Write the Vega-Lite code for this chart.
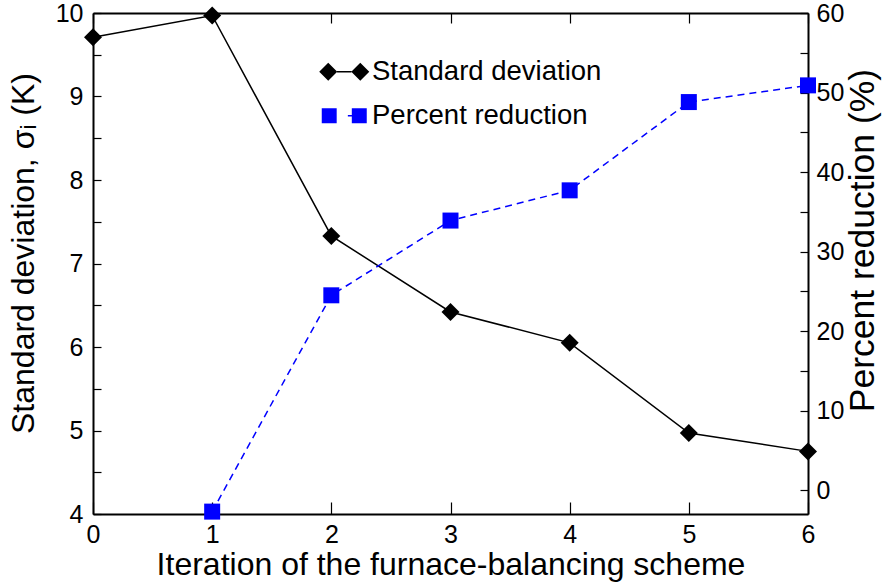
{
  "$schema": "https://vega.github.io/schema/vega-lite/v6.json",
  "width": 715,
  "height": 501,
  "autosize": {"type": "none"},
  "padding": {"left": 93, "top": 13, "right": 75, "bottom": 69},
  "background": "white",
  "config": {
    "view": {"stroke": null},
    "font": "Liberation Sans",
    "axis": {
      "grid": false,
      "domainColor": "black",
      "domainWidth": 2,
      "tickColor": "black",
      "tickWidth": 1.2,
      "tickSize": -8,
      "labelColor": "black",
      "titleColor": "black",
      "labelFont": "Liberation Sans",
      "titleFont": "Liberation Sans",
      "labelFontSize": 25,
      "titleFontSize": 32,
      "titleFontWeight": "normal",
      "labelFlush": false
    },
    "legend": {
      "labelFont": "Liberation Sans"
    }
  },
  "data": {
    "values": [
      {"iteration": 0, "series": "Standard deviation", "value": 9.71},
      {"iteration": 1, "series": "Standard deviation", "value": 9.97},
      {"iteration": 2, "series": "Standard deviation", "value": 7.33},
      {"iteration": 3, "series": "Standard deviation", "value": 6.42},
      {"iteration": 4, "series": "Standard deviation", "value": 6.05},
      {"iteration": 5, "series": "Standard deviation", "value": 4.97},
      {"iteration": 6, "series": "Standard deviation", "value": 4.75},
      {"iteration": 1, "series": "Percent reduction", "value": -2.7},
      {"iteration": 2, "series": "Percent reduction", "value": 24.5},
      {"iteration": 3, "series": "Percent reduction", "value": 33.9},
      {"iteration": 4, "series": "Percent reduction", "value": 37.7},
      {"iteration": 5, "series": "Percent reduction", "value": 48.8},
      {"iteration": 6, "series": "Percent reduction", "value": 50.9}
    ]
  },
  "layer": [
    {
      "transform": [{"filter": "datum.series === 'Standard deviation'"}],
      "encoding": {
        "x": {
          "field": "iteration",
          "type": "quantitative",
          "scale": {"domain": [0, 6], "nice": false, "zero": false},
          "axis": {
            "values": [0, 1, 2, 3, 4, 5, 6],
            "format": "d",
            "title": "Iteration of the furnace-balancing scheme",
            "tickSize": -12,
            "labelPadding": 20,
            "titlePadding": 2
          }
        },
        "y": {
          "field": "value",
          "type": "quantitative",
          "scale": {"domain": [4, 10], "nice": false, "zero": false},
          "axis": {
            "values": [4, 4.5, 5, 5.5, 6, 6.5, 7, 7.5, 8, 8.5, 9, 9.5, 10],
            "labelExpr": "datum.value % 1 === 0 ? format(datum.value, 'd') : ''",
            "title": "Standard deviation,  σᵢ (K)",
            "labelPadding": 18,
            "titlePadding": 15,
            "titleY": 240
          }
        }
      },
      "layer": [
        {"mark": {"type": "line", "color": "black", "strokeWidth": 1.5}},
        {"mark": {"type": "point", "filled": true, "shape": "diamond", "size": 324, "opacity": 1, "color": "#000000"}},
        {
          "mark": {"type": "point", "filled": true, "size": 324, "opacity": 0},
          "encoding": {
            "color": {
              "field": "series",
              "type": "nominal",
              "scale": {"domain": ["Standard deviation", "Percent reduction"], "range": ["#000000", "#0000ff"]},
              "legend": {
                "title": null,
                "orient": "none",
                "legendX": 237.5,
                "legendY": 45,
                "padding": 0,
                "symbolSize": 324,
                "symbolOpacity": 1,
                "symbolStrokeWidth": 0,
                "labelOffset": 14,
                "labelFontSize": 27.5,
                "labelLimit": 0,
                "labelColor": "black",
                "rowPadding": 15
              }
            },
            "shape": {
              "field": "series",
              "type": "nominal",
              "scale": {
                "domain": ["Standard deviation", "Percent reduction"],
                "range": [
                  "M-2.78,0L-1.78,-1L-0.78,0L-1.78,1ZM0.78,0L1.78,-1L2.78,0L1.78,1ZM-0.8,-0.08L0.8,-0.08L0.8,0.08L-0.8,0.08Z",
                  "M-2.5,-0.83L-0.84,-0.83L-0.84,0.83L-2.5,0.83ZM0.84,-0.83L2.5,-0.83L2.5,0.83L0.84,0.83ZM0.4,-0.08L0.86,-0.08L0.86,0.08L0.4,0.08Z"
                ]
              },
              "legend": {
                "title": null,
                "orient": "none",
                "legendX": 237.5,
                "legendY": 45,
                "padding": 0,
                "symbolSize": 324,
                "symbolOpacity": 1,
                "symbolStrokeWidth": 0,
                "labelOffset": 14,
                "labelFontSize": 27.5,
                "labelLimit": 0,
                "labelColor": "black",
                "rowPadding": 15
              }
            }
          }
        }
      ]
    },
    {
      "transform": [{"filter": "datum.series === 'Percent reduction'"}],
      "encoding": {
        "x": {
          "field": "iteration",
          "type": "quantitative",
          "scale": {"domain": [0, 6], "nice": false, "zero": false},
          "axis": {
            "orient": "top",
            "values": [0, 1, 2, 3, 4, 5, 6],
            "tickSize": -10,
            "labels": false,
            "title": null
          }
        },
        "y": {
          "field": "value",
          "type": "quantitative",
          "scale": {"domain": [-3, 60], "nice": false, "zero": false},
          "axis": {
            "orient": "right",
            "values": [0, 5, 10, 15, 20, 25, 30, 35, 40, 45, 50, 55, 60],
            "labelExpr": "datum.value % 10 === 0 ? format(datum.value, 'd') : ''",
            "title": "Percent reduction (%)",
            "titleAngle": -90,
            "titleFontSize": 35.5,
            "titleY": 227,
            "labelPadding": 16,
            "titlePadding": 37
          }
        }
      },
      "layer": [
        {"mark": {"type": "line", "color": "#0000ff", "strokeWidth": 1.5, "strokeDash": [7, 5]}},
        {"mark": {"type": "point", "filled": true, "shape": "square", "size": 256, "opacity": 1, "color": "#0000ff"}}
      ]
    }
  ],
  "resolve": {
    "scale": {"y": "independent"},
    "axis": {"x": "independent", "y": "independent"}
  }
}
